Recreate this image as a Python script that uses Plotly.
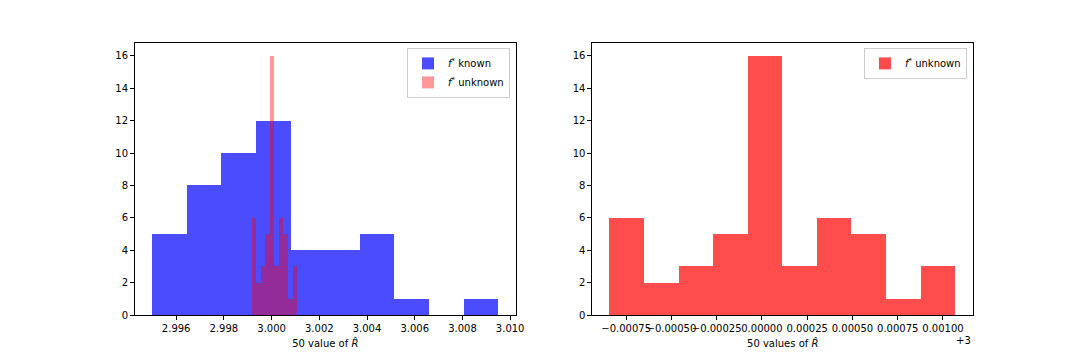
import numpy as np
import plotly.graph_objects as go
from plotly.subplots import make_subplots

# histogram of R-hat with f* known (10 bins)
known_edges = [2.99500, 2.99645, 2.99790, 2.99935, 3.00080, 3.00225,
               3.00370, 3.00515, 3.00660, 3.00805, 3.00950]
known_counts = [5, 8, 10, 12, 4, 4, 5, 1, 0, 1]

# histogram of R-hat with f* unknown (10 bins)
unknown_edges = [2.999160, 2.999351, 2.999542, 2.999733, 2.999924, 3.000115,
                 3.000306, 3.000497, 3.000688, 3.000879, 3.001070]
unknown_counts = [6, 2, 3, 5, 16, 3, 6, 5, 1, 3]

left_ticks = [2.996, 2.998, 3.000, 3.002, 3.004, 3.006, 3.008, 3.010]
right_offsets = [-0.00075, -0.00050, -0.00025, 0.0, 0.00025, 0.00050, 0.00075, 0.00100]
y_ticks = [0, 2, 4, 6, 8, 10, 12, 14, 16]


def centers_widths(edges):
    e = np.array(edges)
    return (e[:-1] + e[1:]) / 2, np.diff(e)


kx, kw = centers_widths(known_edges)
ux, uw = centers_widths(unknown_edges)

FONT = 'DejaVu Sans'
FS = 10
fig = make_subplots(rows=1, cols=2, horizontal_spacing=0.0918)

fig.add_trace(go.Bar(x=kx, y=known_counts, width=kw, name='<i>f</i><sup>*</sup> known',
                     marker=dict(color='blue', line=dict(width=0)), opacity=0.7,
                     legend='legend'), row=1, col=1)
fig.add_trace(go.Bar(x=ux, y=unknown_counts, width=uw, name='<i>f</i><sup>*</sup> unknown',
                     marker=dict(color='red', line=dict(width=0)), opacity=0.4,
                     legend='legend'), row=1, col=1)
fig.add_trace(go.Bar(x=ux, y=unknown_counts, width=uw, name='<i>f</i><sup>*</sup> unknown',
                     marker=dict(color='red', line=dict(width=0)), opacity=0.7,
                     legend='legend2'), row=1, col=2)

axis_common = dict(showline=True, mirror=True, linecolor='black', linewidth=1,
                   ticks='outside', ticklen=4, tickcolor='black', showgrid=False,
                   zeroline=False, tickfont=dict(family=FONT, size=FS, color='black'))

fig.update_xaxes(**axis_common, tickangle=0)
fig.update_yaxes(**axis_common, range=[0, 16.8], tickvals=y_ticks)

fig.update_xaxes(range=[2.994275, 3.010225], tickvals=left_ticks,
                 ticktext=[f'{t:.3f}' for t in left_ticks],
                 title=dict(text='50 value of <i>R̂</i>', standoff=6,
                            font=dict(family=FONT, size=FS, color='black')),
                 row=1, col=1)
fig.update_xaxes(range=[3 - 0.000936, 3 + 0.001166],
                 tickvals=[3 + t for t in right_offsets],
                 ticktext=[f'{t:.5f}'.replace('-', '−') for t in right_offsets],
                 title=dict(text='50 values of <i>R̂</i>', standoff=6,
                            font=dict(family=FONT, size=FS, color='black')),
                 row=1, col=2)

legend_common = dict(bordercolor='#cccccc', borderwidth=1, bgcolor='rgba(255,255,255,0.8)',
                     font=dict(family=FONT, size=FS, color='black'),
                     xanchor='right', yanchor='top', tracegroupgap=0)

# the page body adds an 8px offset, so the margins are shifted to compensate
fig.update_layout(
    width=1080, height=360,
    margin=dict(l=127, r=115, t=35, b=53),
    barmode='overlay', bargap=0,
    plot_bgcolor='white', paper_bgcolor='white',
    font=dict(family=FONT, size=FS, color='black'),
    showlegend=True,
    legend=dict(**legend_common, x=0.4475, y=0.982),
    legend2=dict(**legend_common, x=0.9928, y=0.982),
)

# matplotlib-style offset text for the right axis
fig.add_annotation(text='+3', xref='paper', yref='paper', x=1.0, y=-0.095,
                   xanchor='right', yanchor='middle', showarrow=False,
                   font=dict(family=FONT, size=FS, color='black'))

fig.write_html('out.html')
